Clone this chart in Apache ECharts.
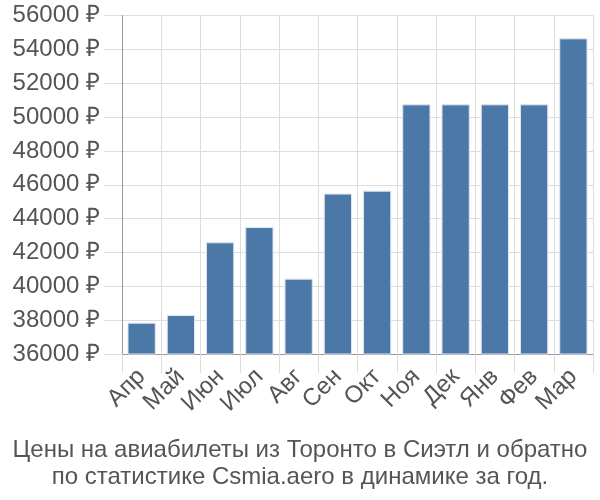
<!DOCTYPE html>
<html><head><meta charset="utf-8">
<script src="https://cdn.jsdelivr.net/npm/echarts@6/dist/echarts.min.js"></script>
<style>html,body{margin:0;padding:0;background:#fff}#c{width:600px;height:500px}</style>
</head><body><div id="c"></div>
<script>
const categories = ["Апр","Май","Июн","Июл","Авг","Сен","Окт","Ноя","Дек","Янв","Фев","Мар"];
const prices = [37850, 38300, 42600, 43500, 40450, 45480, 45650, 50750, 50750, 50750, 50750, 54650];
const yMin = 36000, yMax = 56000, yStep = 2000;
const titleLines = ["Цены на авиабилеты из Торонто в Сиэтл и обратно", "по статистике Csmia.aero в динамике за год."];

const FONT = 'Liberation Sans, Arial, sans-serif';
const chart = echarts.init(document.getElementById('c'), null, {renderer:'canvas'});
chart.setOption({
  animation: false,
  title: {
    text: titleLines.join('\n'),
    left: 'center', top: 432,
    textStyle: {fontFamily: FONT, fontSize: 24, fontWeight: 'normal', color: '#555', lineHeight: 27}
  },
  grid: {left: 122, right: 7, top: 15.5, bottom: 146},
  xAxis: {
    type: 'category', data: categories,
    axisLine: {lineStyle: {color: '#999'}},
    axisTick: {show: true, length: 19, lineStyle: {color: '#ddd'}},
    splitLine: {show: true, lineStyle: {color: '#ddd'}},
    axisLabel: {interval: 0, rotate: 45, fontSize: 24, color: '#555', fontFamily: FONT, margin: 19}
  },
  yAxis: {
    type: 'value', min: yMin, max: yMax, interval: yStep,
    axisLine: {show: true, lineStyle: {color: '#999'}},
    axisTick: {show: true, length: 18, lineStyle: {color: '#ddd'}},
    splitLine: {lineStyle: {color: '#ddd'}},
    axisLabel: {fontSize: 24, color: '#555', margin: 22, fontFamily: FONT, formatter: v => v + ' ₽'}
  },
  series: [{
    type: 'bar', data: prices, barCategoryGap: '28%',
    itemStyle: {color: '#4c78a8', borderColor: '#dde6f0', borderWidth: 1}
  }]
});
</script></body></html>
